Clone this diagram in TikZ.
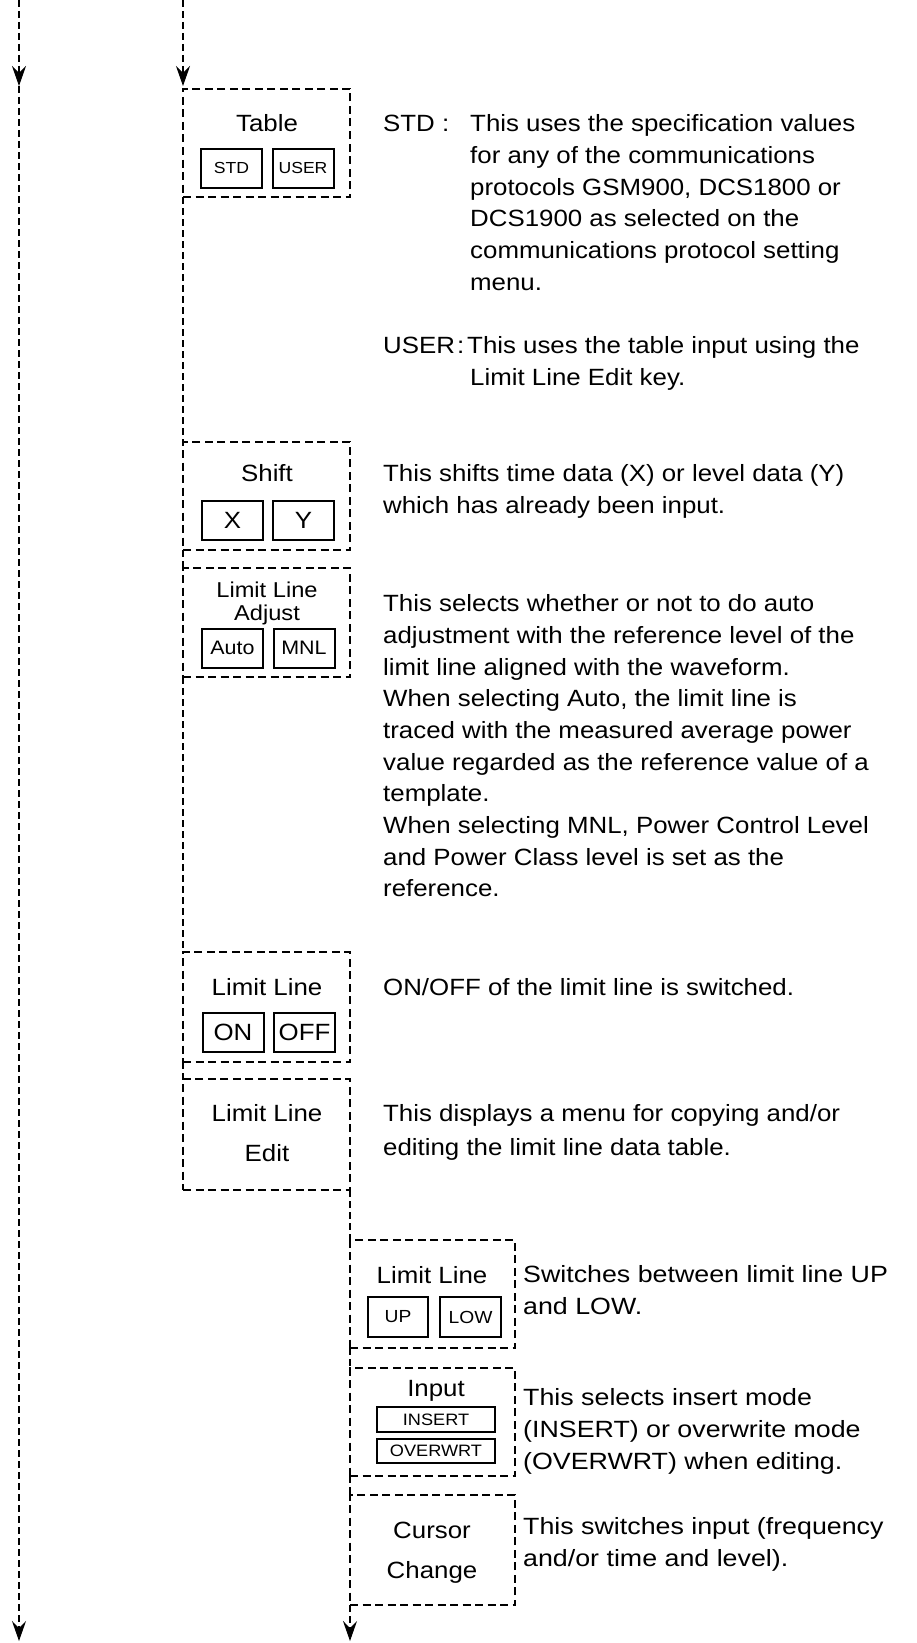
\documentclass[tikz,border=0pt]{standalone}
\usepackage{fontspec}
\setmainfont{Liberation Sans}[FakeStretch=1.1]
\usetikzlibrary{arrows.meta}
\newcommand\firstln{\rule{0pt}{18pt}}
\begin{document}
\begin{tikzpicture}[x=1pt,y=-1pt,
  frame/.style={draw, line width=1.9pt, dash pattern=on 8pt off 4.5pt, inner sep=0pt, outer sep=0pt, minimum width=167pt},
  subframe/.style={frame, minimum width=165pt},
  conn/.style={draw, line width=1.9pt, dash pattern=on 7pt off 4pt},
  tip/.style={-{Stealth[length=20pt,width=14pt,inset=7pt,fill=black,line width=1pt]}},
  btn/.style={draw, line width=2pt, inner sep=0pt, outer sep=0pt, minimum width=61pt, minimum height=39pt},
  lbl/.style={inner sep=0pt, anchor=base, font=\fontsize{23.5}{28}\selectfont},
  desc/.style={inner sep=0pt, anchor=north west, align=left, font=\fontsize{23.5}{31.7}\selectfont},
  subdesc/.style={desc, font=\fontsize{23.5}{31.7}\selectfont\addfontfeature{FakeStretch=1.14}},
]
\useasboundingbox (0,0) rectangle (916,1643);

% ---------- frames, first column ----------
\node[frame, minimum height=108pt] (tbl)   at (266.5,143)  {};
\node[frame, minimum height=108pt] (shf)   at (266.5,496)  {};
\node[frame, minimum height=109pt] (adj)   at (266.5,622.5) {};
\node[frame, minimum height=110pt] (onoff) at (266.5,1007) {};
\node[frame, minimum height=111pt] (edit)  at (266.5,1134.5) {};
% ---------- frames, second column ----------
\node[subframe, minimum height=108pt] (uplow) at (432.5,1294) {};
\node[subframe, minimum height=108pt] (inp)   at (432.5,1422) {};
\node[subframe, minimum height=110pt] (cur)   at (432.5,1550) {};

% ---------- connectors ----------
\coordinate (top1) at (19,0);
\coordinate (mid1) at (19,86);
\coordinate (bot1) at (19,1641);
\coordinate (top2) at (183,0);
\coordinate (bot2) at (350,1641);
\draw[conn, tip] (top1) -- (mid1);
\draw[conn, tip] (mid1) -- (bot1);
\draw[conn, tip, shorten >=3pt] (top2) -- (tbl.north west);
\draw[conn] (tbl.south west) -- (shf.north west);
\draw[conn] (shf.south west) -- (adj.north west);
\draw[conn] (adj.south west) -- (onoff.north west);
\draw[conn] (onoff.south west) -- (edit.north west);
\draw[conn] (edit.south east) -- (uplow.north west);
\draw[conn] (uplow.south west) -- (inp.north west);
\draw[conn] (inp.south west) -- (cur.north west);
\draw[conn, tip] (cur.south west) -- (bot2);

% ---------- Table ----------
\node[lbl] (tbltitle) at (267,131.4) {Table};
\node[btn, font=\fontsize{16}{18}\selectfont] (bstd)  at (231.5,168) {STD};
\node[btn, font=\fontsize{16}{18}\selectfont] (buser) at (303,168) {USER};
\node[desc] (stdlbl) at (383,113.4) {\firstln STD :};
\node[desc] (stdtxt) at (470,113.4) {\firstln This uses the specification values\\
for any of the communications\\
protocols GSM900, DCS1800 or\\
DCS1900 as selected on the\\
communications protocol setting\\
menu.};
\node[desc] (userlbl) at (383,335.4) {\firstln USER\hspace{2pt}:};
\node[desc] (usertxt) at (467,335.4) {\firstln This uses the table input using the\\
\hspace*{3pt}Limit Line Edit key.};

% ---------- Shift ----------
\node[lbl] (shftitle) at (267,481.4) {Shift};
\node[btn, font=\fontsize{23.5}{26}\selectfont] (bx) at (232.5,520) {X};
\node[btn, font=\fontsize{23.5}{26}\selectfont] (by) at (303.5,520) {Y};
\node[desc] (shftxt) at (383,463.4) {\firstln This shifts time data (X) or level data (Y)\\
which has already been input.};

% ---------- Limit Line Adjust ----------
\node[lbl, font=\fontsize{21.5}{24}\selectfont] (adjt1) at (267,597.5) {Limit Line};
\node[lbl, font=\fontsize{21.5}{24}\selectfont] (adjt2) at (267,620.5) {Adjust};
\node[btn, font=\fontsize{19.5}{22}\selectfont] (bauto) at (232.5,648) {Auto};
\node[btn, font=\fontsize{19.5}{22}\selectfont] (bmnl)  at (304,648) {MNL};
\node[desc] (adjtxt) at (383,593.4) {\firstln This selects whether or not to do auto\\
adjustment with the reference level of the\\
limit line aligned with the waveform.\\
When selecting Auto, the limit line is\\
traced with the measured average power\\
value regarded as the reference value of a\\
template.\\
When selecting MNL, Power Control Level\\
and Power Class level is set as the\\
reference.};

% ---------- Limit Line ON/OFF ----------
\node[lbl] (onofft) at (267,995.4) {Limit Line};
\node[btn, font=\fontsize{23.5}{26}\selectfont] (bon)  at (233,1032.5) {ON};
\node[btn, font=\fontsize{23.5}{26}\selectfont] (boff) at (304.5,1032.5) {OFF};
\node[desc] (onofftxt) at (383,977.4) {\firstln ON/OFF of the limit line is switched.};

% ---------- Limit Line Edit ----------
\node[lbl] (editt1) at (267,1121.4) {Limit Line};
\node[lbl] (editt2) at (267,1161.4) {Edit};
\node[desc] (edittxt) at (383,1103.4) {\firstln This displays a menu for copying and/or\\[2pt]
editing the limit line data table.};

% ---------- Limit Line UP/LOW ----------
\node[lbl] (uplowt) at (432,1283.4) {Limit Line};
\node[btn, minimum width=60pt, minimum height=40pt, font=\fontsize{17.5}{20}\selectfont] (bup)  at (398,1317) {UP};
\node[btn, minimum width=61pt, minimum height=40pt, font=\fontsize{17.5}{20}\selectfont] (blow) at (470.5,1317) {LOW};
\node[subdesc] (uplowtxt) at (523,1264.4) {\firstln Switches between limit line UP\\
and LOW.};

% ---------- Input ----------
\node[lbl] (inpt) at (436,1396.4) {Input};
\node[btn, minimum width=118pt, minimum height=25pt, font=\fontsize{16.5}{18}\selectfont] (bins) at (436,1419.5) {INSERT};
\node[btn, minimum width=118pt, minimum height=24pt, font=\fontsize{16.5}{18}\selectfont] (bovr) at (436,1451) {OVERWRT};
\node[subdesc] (inptxt) at (523,1387.4) {\firstln This selects insert mode\\
(INSERT) or overwrite mode\\
(OVERWRT) when editing.};

% ---------- Cursor Change ----------
\node[lbl] (curt1) at (432,1538.4) {Cursor};
\node[lbl] (curt2) at (432,1578.4) {Change};
\node[subdesc] (curtxt) at (523,1516.4) {\firstln This switches input (frequency\\
and/or time and level).};
\end{tikzpicture}
\end{document}
